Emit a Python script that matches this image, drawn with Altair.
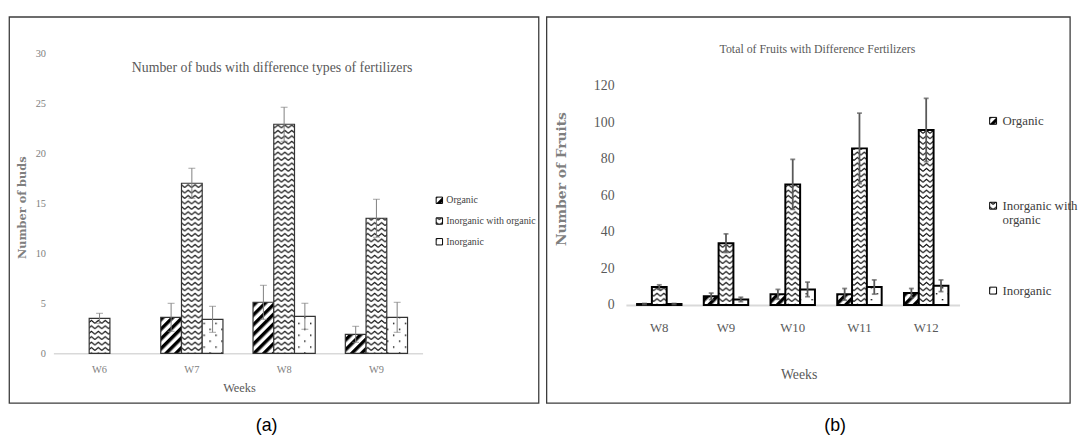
import altair as alt
import pandas as pd
import jinja2

# ---------------- data ----------------
SERIES = ["Organic", "Inorganic with organic", "Inorganic"]

weeks_a = ["W6", "W7", "W8", "W9"]
organic_a = [None, 3.6, 5.1, 1.9]
organic_err_a = [None, 1.4, 1.7, 0.8]
iwo_a = [3.5, 17.0, 22.9, 13.5]
iwo_err_a = [0.5, 1.5, 1.7, 1.9]
inorganic_a = [None, 3.4, 3.7, 3.6]
inorganic_err_a = [None, 1.3, 1.3, 1.5]

weeks_b = ["W8", "W9", "W10", "W11", "W12"]
organic_b = [0.5, 4.7, 5.8, 5.8, 6.5]
organic_err_b = [0.3, 1.8, 2.7, 3.2, 2.5]
iwo_b = [9.8, 33.8, 66.0, 85.7, 95.8]
iwo_err_b = [1.2, 5.1, 13.7, 19.3, 17.3]
inorganic_b = [0.5, 3.0, 8.5, 9.8, 10.5]
inorganic_err_b = [0.3, 1.2, 4.0, 3.9, 3.2]

yticks_a = [0, 5, 10, 15, 20, 25, 30]
yticks_b = [0, 20, 40, 60, 80, 100, 120]


def long_df(weeks, vals, errs):
    rows = []
    for s, vl, el in zip(SERIES, vals, errs):
        for w, v, e in zip(weeks, vl, el):
            if v is None:
                continue
            rows.append({"Week": w, "Series": s, "Value": v, "lo": v - e, "hi": v + e})
    return pd.DataFrame(rows)


df_a = long_df(weeks_a, [organic_a, iwo_a, inorganic_a],
               [organic_err_a, iwo_err_a, inorganic_err_a])
df_b = long_df(weeks_b, [organic_b, iwo_b, inorganic_b],
               [organic_err_b, iwo_err_b, inorganic_err_b])

# ---------------- style ----------------
SERIF = "Liberation Serif"
BOLD_SERIF = "DejaVu Serif"
PATTERNS = ["url(#pat-diag)", "url(#pat-zig)", "url(#pat-dot)"]


def panel(df, weeks, yticks, c):
    x = alt.X("Week:N", sort=weeks, title="Weeks",
              scale=alt.Scale(paddingInner=c["pad"], paddingOuter=c["pad"] / 2),
              axis=alt.Axis(labelAngle=0, ticks=False, grid=False,
                            domainColor=c["domain_color"], domainWidth=c["domain_w"],
                            labelFont=SERIF, labelFontSize=c["xlab_size"],
                            labelColor=c["lab_color"], labelPadding=c["xlab_pad"],
                            titleFont=SERIF, titleFontSize=c["xtitle_size"],
                            titleColor="#595959", titleFontWeight="normal",
                            titleX=c["xtitle_x"], titleY=c["xtitle_y"],
                            titleBaseline="middle", titleAlign="center"))
    xo = alt.XOffset("Series:N", sort=SERIES,
                     scale=alt.Scale(paddingInner=0, paddingOuter=0))
    yaxis = alt.Axis(values=yticks, domain=False, ticks=False, grid=False,
                     labelFont=SERIF, labelFontSize=c["ylab_size"],
                     labelColor=c["lab_color"], labelPadding=c["ylab_pad"],
                     titleFont=BOLD_SERIF, titleFontSize=c["ytitle_size"],
                     titleFontWeight="bold", titleColor="#7f7f7f",
                     titleX=c["ytitle_x"], titleY=c["ytitle_y"], titleAngle=270,
                     titleBaseline="middle", titleAlign="center")
    yscale = alt.Scale(domain=c["ydom"], nice=False)

    def Y(field):
        return alt.Y(field, title=c["ytitle"], scale=yscale, axis=yaxis)

    leg_kw = dict(title=None, orient="none", legendX=c["leg_x"], legendY=c["leg_y"],
                  symbolType="square", symbolSize=c["sym_size"],
                  symbolStrokeColor="black", symbolStrokeWidth=1,
                  labelFont=SERIF, labelFontSize=c["leg_size"], labelColor="#404040",
                  rowPadding=c["row_pad"], labelOffset=c["lab_off"], padding=0,
                  labelLimit=300)
    if c.get("label_expr"):
        leg_kw["labelExpr"] = c["label_expr"]

    fill = alt.Fill("Series:N", sort=SERIES,
                    scale=alt.Scale(domain=SERIES, range=PATTERNS),
                    legend=alt.Legend(**leg_kw))

    base = alt.Chart(df)
    bars = base.mark_bar(stroke=c["bar_stroke"], strokeWidth=c["bar_sw"]).encode(
        x=x, xOffset=xo, y=Y("Value:Q"), fill=fill)
    err = base.mark_rule(color=c["err_color"], strokeWidth=c["err_w"]).encode(
        x=x, xOffset=xo, y=Y("lo:Q"), y2="hi:Q")
    cap_hi = base.mark_tick(color=c["err_color"], thickness=c["err_w"], size=c["cap"]).encode(
        x=x, xOffset=xo, y=Y("hi:Q"))
    cap_lo = base.mark_tick(color=c["err_color"], thickness=c["err_w"], size=c["cap"]).encode(
        x=x, xOffset=xo, y=Y("lo:Q"))

    one = alt.Data(values=[{}])
    frame = alt.Chart(one).mark_rect(fillOpacity=0, stroke="#3c3c3c", strokeWidth=1.3).encode(
        x=alt.value(c["frame"][0]), x2=alt.value(c["frame"][1]),
        y=alt.value(c["frame"][2]), y2=alt.value(c["frame"][3]))
    title = alt.Chart(one).mark_text(text=c["title"], font=SERIF, fontSize=c["title_size"],
                                     color="#595959", align="center", baseline="alphabetic").encode(
        x=alt.value(c["title_xy"][0]), y=alt.value(c["title_xy"][1]))
    tag = alt.Chart(one).mark_text(text=c["tag"], font="Liberation Sans", fontSize=18,
                                   color="#000000", align="center", baseline="middle").encode(
        x=alt.value(c["tag_xy"][0]), y=alt.value(c["tag_xy"][1]))

    return alt.layer(bars, err, cap_hi, cap_lo, frame, title, tag).properties(
        width=c["w"], height=c["h"])


# both plot areas start at the same height (y = 50 on the page)
cfg_a = dict(
    w=374, h=304, ydom=[0, 30], pad=0.326,
    domain_color="#d9d9d9", domain_w=1.5,
    xlab_size=10.5, ylab_size=10.5, lab_color="#808080", xlab_pad=11, ylab_pad=8,
    xtitle_size=12.5, xtitle_x=188, xtitle_y=35,
    ytitle="Number of buds", ytitle_size=11.5, ytitle_x=-31, ytitle_y=156,
    leg_x=386, leg_y=144, sym_size=42, leg_size=10, row_pad=9, lab_off=2,
    bar_stroke="#333333", bar_sw=1.2,
    err_color="#7f7f7f", err_w=1, cap=7,
    frame=[-44.7, 491.7, -36.7, 354.5],
    title="Number of buds with difference types of fertilizers", title_size=14,
    title_xy=[221.6, 19], tag="(a)", tag_xy=[216, 378],
)

cfg_b = dict(
    w=338, h=255, ydom=[0, 137.8], pad=0.334,
    domain_color="#d9d9d9", domain_w=2,
    xlab_size=13, ylab_size=14, lab_color="#595959", xlab_pad=17, ylab_pad=12,
    xtitle_size=14, xtitle_x=175, xtitle_y=71,
    ytitle="Number of Fruits", ytitle_size=14, ytitle_x=-65, ytitle_y=127,
    leg_x=365.5, leg_y=62, sym_size=49, leg_size=13, row_pad=57, lab_off=3,
    label_expr=("datum.label == 'Inorganic with organic' ? ['Inorganic with', 'organic'] : "
                "datum.label == 'Organic' ? ['Organic', ''] : ' ' + datum.label"),
    bar_stroke="#000000", bar_sw=2,
    err_color="#595959", err_w=1.8, cap=5,
    frame=[-80.3, 450, -36.7, 354.5],
    title="Total of Fruits with Difference Fertilizers", title_size=12,
    title_xy=[194, 0], tag="(b)", tag_xy=[212, 378],
)

chart = alt.hconcat(
    panel(df_a, weeks_a, yticks_a, cfg_a),
    panel(df_b, weeks_b, yticks_b, cfg_b),
    spacing=6,
).resolve_scale(
    fill="independent", x="independent", y="independent", xOffset="independent"
).resolve_legend(fill="independent").properties(
    padding={"left": 0, "top": 5, "right": 0, "bottom": 0}
).configure_view(strokeWidth=0)

PAGE = jinja2.Template("""<!DOCTYPE html>
<html>
<head>
  <style>
    #{{ output_div }}.vega-embed { width: 100%; display: flex; }
    #{{ output_div }}.vega-embed details,
    #{{ output_div }}.vega-embed details summary { position: relative; }
  </style>
  <script type="text/javascript" src="{{ base_url }}/vega@{{ vega_version }}"></script>
  <script type="text/javascript" src="{{ base_url }}/vega-lite@{{ vegalite_version }}"></script>
  <script type="text/javascript" src="{{ base_url }}/vega-embed@{{ vegaembed_version }}"></script>
</head>
<body>
  <svg width="0" height="0" style="position:absolute;left:0;top:0" aria-hidden="true">
    <defs>
      <pattern id="pat-diag" patternUnits="userSpaceOnUse" width="7" height="7" patternTransform="rotate(45)">
        <rect width="7" height="7" fill="#ffffff"/>
        <rect width="3.5" height="7" fill="#000000"/>
      </pattern>
      <pattern id="pat-zig" patternUnits="userSpaceOnUse" width="7" height="5.5">
        <rect width="7" height="5.5" fill="#ffffff"/>
        <polyline points="0,4.2 3.5,1.2 7,4.2" fill="none" stroke="#000000" stroke-width="1.1"/>
      </pattern>
      <pattern id="pat-dot" patternUnits="userSpaceOnUse" width="12" height="12">
        <rect width="12" height="12" fill="#ffffff"/>
        <rect x="2" y="3" width="1.4" height="1.4" fill="#000000"/>
        <rect x="8" y="9" width="1.4" height="1.4" fill="#000000"/>
      </pattern>
    </defs>
  </svg>
  <div id="{{ output_div }}"></div>
  <script>
    (function(vegaEmbed) {
      var spec = {{ spec }};
      var embedOpt = {{ embed_options }};
      function showError(el, error) {
        el.innerHTML = ('<div style="color:red;"><p>JavaScript Error: ' + error.message + '</p></div>');
        throw error;
      }
      const el = document.getElementById('{{ output_div }}');
      vegaEmbed("#{{ output_div }}", spec, embedOpt).catch(error => showError(el, error));
    })(vegaEmbed);
  </script>
</body>
</html>
""")

chart.save("out.html", embed_options={"renderer": "svg", "actions": False}, template=PAGE)
